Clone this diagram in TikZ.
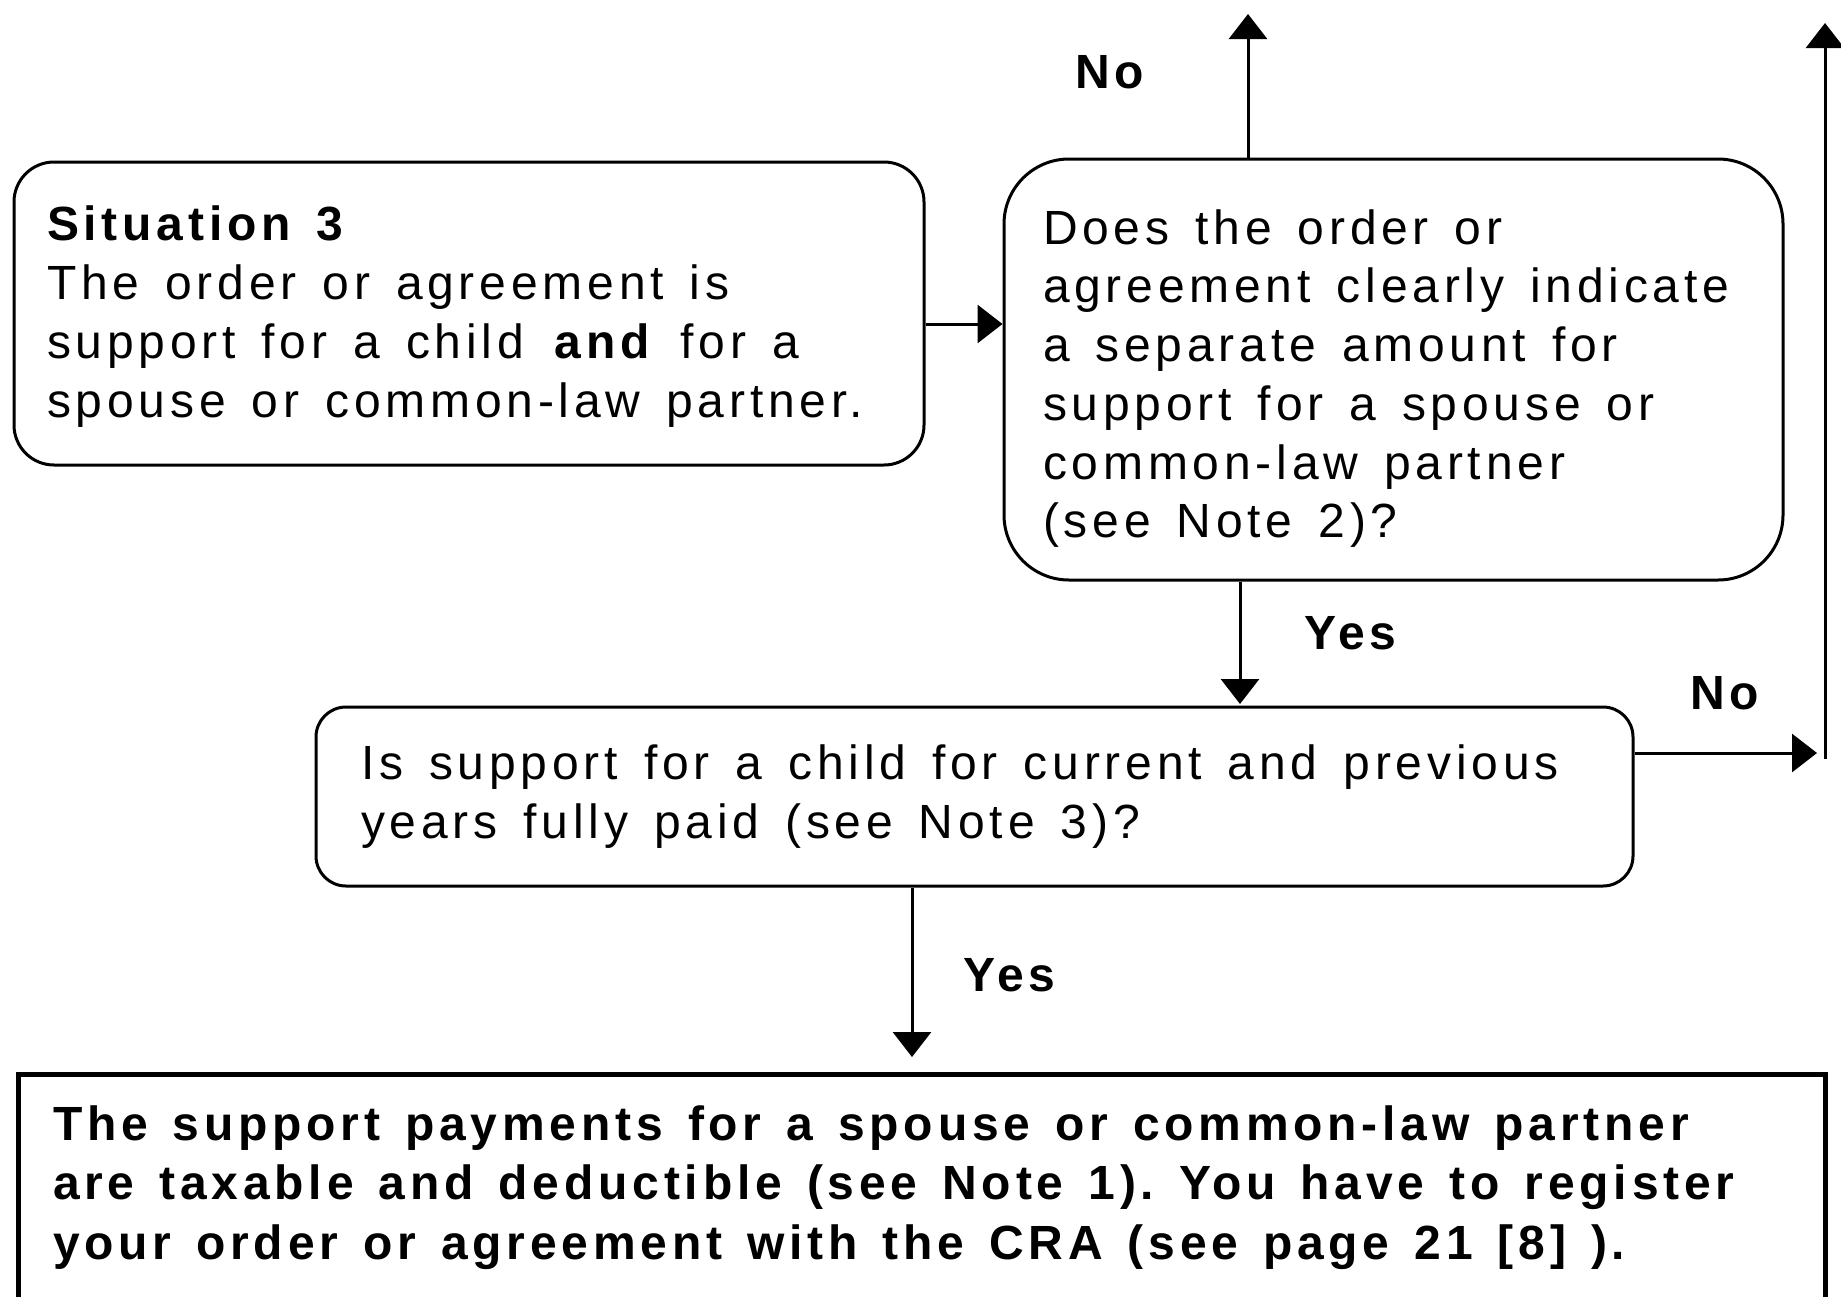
\documentclass[tikz,border=0pt]{standalone}
\usepackage{fontspec}
\setmainfont{Liberation Sans}[LetterSpace=10]
\usetikzlibrary{arrows.meta}
\frenchspacing
\newcommand{\wspreg}{\spaceskip 26pt plus 6pt minus 3pt\xspaceskip 26pt\relax}
\newcommand{\wspbold}{\spaceskip 25pt plus 6pt minus 3pt\xspaceskip 25pt\relax}
\begin{document}
\begin{tikzpicture}[x=1pt,y=-1pt,
  box/.style={draw, line width=3pt, rounded corners=#1, align=left, inner ysep=0pt,
    font=\fontsize{48}{58.7}\selectfont},
  resbox/.style={draw, line width=5pt, align=left, inner ysep=0pt,
    font=\fontsize{48}{59.5}\selectfont\bfseries},
  arr/.style={line width=3pt, -{Triangle[length=25pt,width=38pt]}},
  lab/.style={font=\fontsize{48}{58}\selectfont\bfseries, anchor=base west, inner sep=0pt}]
\clip (0,0) rectangle (1841,1296);
\useasboundingbox (0,0) rectangle (1841,1296);

\node[box=40pt, text width=844pt, inner xsep=33pt, minimum height=303pt] (sit) at (469,313.5)
  {\wspreg\rule{0pt}{41pt}\textbf{Situation 3}\\The order or agreement is\\support for a child \textbf{and} for a\\\mbox{spouse or common-law partner.}};

\node[box=65pt, text width=701pt, inner xsep=39pt, minimum height=421pt] (q1) at (1393.5,369.5)
  {\wspreg\rule{0pt}{53pt}Does the order or\\\mbox{agreement clearly indicate}\\a separate amount for\\support for a spouse or\\common-law partner\\(see Note 2)?};

\node[box=30pt, text width=1227pt, inner xsep=45pt, minimum height=179pt] (q2) at (974.5,796.5)
  {\wspreg\mbox{Is support for a child for current and previous}\\years fully paid (see Note 3)?};

\node[resbox, text width=1737pt, inner xsep=35pt, minimum height=227pt] (res) at (921.5,1187.5)
  {\wspbold\mbox{The support payments for a spouse or common-law partner}\\\mbox{are taxable and deductible (see Note 1). You have to register}\\\mbox{your order or agreement with the CRA (see page 21 [8] ).}};

\coordinate (t1) at (1248,14);
\coordinate (r0) at (1825,759);
\coordinate (r1) at (1825,23);
\coordinate (nr) at (1817,753);
\coordinate (y1) at (1240,704);
\coordinate (y2) at (912,1057);
\coordinate (s1) at (924,324);

\draw[arr] (sit.east |- s1) -- (q1.west |- s1);
\draw[arr] (q1.north -| t1) -- (t1);
\draw[arr] (r0) -- (r1);
\draw[arr] (q2.east |- nr) -- (nr);
\draw[arr] (q1.south -| y1) -- (y1);
\draw[arr] (q2.south -| y2) -- (y2);

\node[lab] (lno1) at (1075,88) {No};
\node[lab] (lyes1) at (1304,649) {Yes};
\node[lab] (lno2) at (1690,709) {No};
\node[lab] (lyes2) at (963,991) {Yes};
\end{tikzpicture}
\end{document}
